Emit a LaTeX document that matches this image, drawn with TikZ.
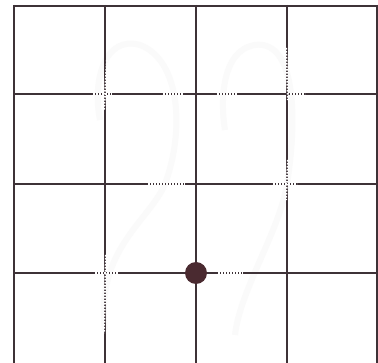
\documentclass[tikz,border=0pt]{standalone}
\begin{document}
\begin{tikzpicture}[x=1pt,y=-1pt,
  gridline/.style={draw=gridc,line width=1.5pt},
  gapmark/.style={draw=white,line width=2pt,dash pattern=on 1.6pt off 1.4pt},
  faint/.style={draw=black!2,line width=6pt}]
\definecolor{gridc}{HTML}{3E3237}
\definecolor{dotc}{HTML}{4A2A30}
\useasboundingbox (0,0) rectangle (378,363);
\fill[white] (0,0) rectangle (378,363);
% faint ghost curves
\draw[faint] (105,330) .. controls (95,250) and (150,220) .. (165,184) .. controls (185,130) and (180,60) .. (140,45) .. controls (105,35) and (92,80) .. (100,120);
\draw[faint] (235,335) .. controls (240,290) and (280,230) .. (287,184) .. controls (300,100) and (290,40) .. (255,45) .. controls (222,50) and (220,100) .. (225,130);
% grid
\foreach \x in {14,105,196,287,377} \draw[gridline] (\x,5) -- (\x,363);
\foreach \y in {6,94,184,273} \draw[gridline] (14,\y) -- (377,\y);
% white breaks where the ghost curves cross the grid
\draw[gapmark] (107,60) -- (104,110);
\draw[gapmark] (106,255) -- (104,333);
\draw[gapmark] (93,94) -- (112,94);
\draw[gapmark] (163,94) -- (183,94);
\draw[gapmark] (217,94) -- (237,94);
\draw[gapmark] (290,94) -- (305,94);
\draw[gapmark] (286,48) -- (288,100);
\draw[gapmark] (288,160) -- (286,200);
\draw[gapmark] (148,184) -- (185,184);
\draw[gapmark] (273,184) -- (297,184);
\draw[gapmark] (95,273) -- (118,273);
\draw[gapmark] (218,273) -- (243,273);
% dot
\node[circle,fill=dotc,minimum size=22pt,inner sep=0pt] (dot) at (196,273) {};
\end{tikzpicture}
\end{document}
